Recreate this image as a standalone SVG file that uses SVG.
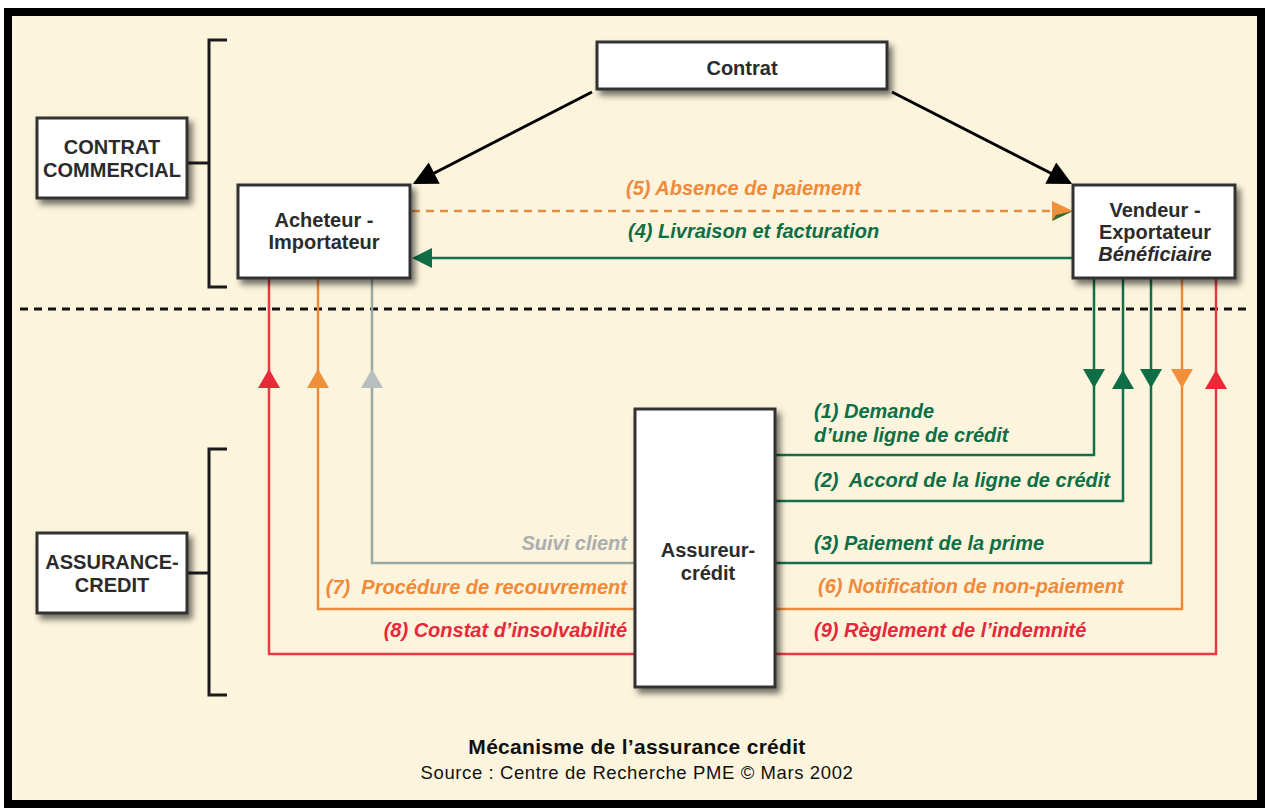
<svg xmlns="http://www.w3.org/2000/svg" width="1265" height="812" viewBox="0 0 1265 812">
  <defs>
    <style>
      .box { fill: #ffffff; stroke: #333333; stroke-width: 3; filter: url(#shadow); }
      .node { font-family: "Liberation Sans", Arial, sans-serif; font-weight: bold; font-size: 20px; fill: #2b2b2b; text-anchor: middle; }
      .lbl { font-family: "Liberation Sans", Arial, sans-serif; font-weight: bold; font-style: italic; font-size: 20px; }
      .green { fill: #0f6e45; }
      .orange { fill: #f08a3a; }
      .red { fill: #e8283a; }
      .grey { fill: #a9aeae; }
      .ln { fill: none; stroke-width: 2.5; }
      .lg { stroke: #13704a; }
      .lo { stroke: #e98b3c; }
      .lr { stroke: #e83a44; }
      .lgr { stroke: #98aaa6; }
      .brk { fill: none; stroke: #1a1a1a; stroke-width: 3; }
    </style>
    <filter id="shadow" x="-20%" y="-20%" width="150%" height="150%">
      <feDropShadow dx="4" dy="5" stdDeviation="3" flood-color="#000" flood-opacity="0.55"/>
    </filter>
    <marker id="blackHead" viewBox="0 0 10 10" refX="9" refY="5" markerWidth="9" markerHeight="8" markerUnits="strokeWidth" orient="auto">
      <path d="M0,0 L10,5 L0,10 Z" fill="#000"/>
    </marker>
    <!-- triangles for the vertical flows, tip at the origin -->
    <path id="triUp" d="M0,0 L11,19 L-11,19 Z"/>
    <path id="triDown" d="M0,0 L11,-19 L-11,-19 Z"/>
  </defs>

  <!-- frame -->
  <rect x="0" y="0" width="1265" height="812" fill="#ffffff"/>
  <rect x="8" y="12" width="1253" height="792" fill="#fcf4dc" stroke="#000" stroke-width="8"/>

  <!-- separator between the two levels -->
  <line x1="20" y1="309" x2="1246" y2="309" stroke="#111" stroke-width="3" stroke-dasharray="8 6"/>

  <!-- brackets -->
  <g id="brackets">
    <path class="brk" d="M227,40 H209 V287 H227"/>
    <path class="brk" d="M187,163 H209" stroke-width="2"/>
    <path class="brk" d="M227,449 H209 V695 H227"/>
    <path class="brk" d="M187,573 H209" stroke-width="2"/>
  </g>

  <!-- connectors -->
  <g id="connectors">
    <!-- contract to both parties -->
    <line x1="592" y1="92" x2="415" y2="183" stroke="#000" stroke-width="3" marker-end="url(#blackHead)"/>
    <line x1="892" y1="92" x2="1070" y2="183" stroke="#000" stroke-width="3" marker-end="url(#blackHead)"/>

    <!-- (5) absence de paiement -->
    <line x1="412" y1="211" x2="1054" y2="211" class="ln lo" stroke-width="2" stroke-dasharray="8 6"/>
    <path d="M1073,211 L1052,201 L1052,221 Z" fill="#f0903a"/>
    <path d="M1073,211 L1052,221 L1056,215 Z" fill="#2f6b3a"/>

    <!-- (4) livraison et facturation -->
    <line x1="1073" y1="258" x2="428" y2="258" class="ln lg"/>
    <path d="M412,258 L432,248 L432,268 Z" fill="#0f6e45"/>

    <!-- buyer side -->
    <path class="ln lr" d="M269,279 V654 H635"/>
    <path class="ln lo" d="M318,279 V609 H635"/>
    <path class="ln lgr" d="M372,279 V563 H635"/>
    <use href="#triUp" x="269" y="369" fill="#e62a38"/>
    <use href="#triUp" x="318" y="369" fill="#f0903a"/>
    <use href="#triUp" x="372" y="369" fill="#b9bfbf"/>

    <!-- seller side -->
    <path class="ln lg" d="M775,455 H1094 V279"/>
    <path class="ln lg" d="M775,501 H1123 V279"/>
    <path class="ln lg" d="M775,563 H1151 V279"/>
    <path class="ln lo" d="M775,609 H1182 V279"/>
    <path class="ln lr" d="M775,654 H1216 V279"/>
    <use href="#triDown" x="1094" y="388" fill="#0f6e45"/>
    <use href="#triUp" x="1123" y="370" fill="#0f6e45"/>
    <use href="#triDown" x="1151" y="388" fill="#0f6e45"/>
    <use href="#triDown" x="1182" y="388" fill="#f0903a"/>
    <use href="#triUp" x="1216" y="370" fill="#e62a38"/>
  </g>

  <!-- connector labels -->
  <g id="labels">
    <text class="lbl orange" x="626" y="195">(5) Absence de paiement</text>
    <text class="lbl green" x="628" y="238">(4) Livraison et facturation</text>

    <text class="lbl grey" x="627" y="550" text-anchor="end">Suivi client</text>
    <text class="lbl orange" x="627" y="594" text-anchor="end" xml:space="preserve">(7)  Procédure de recouvrement</text>
    <text class="lbl red" x="627" y="637" text-anchor="end">(8) Constat d’insolvabilité</text>

    <text class="lbl green" x="814" y="418">(1) Demande</text>
    <text class="lbl green" x="814" y="442">d’une ligne de crédit</text>
    <text class="lbl green" x="814" y="487" xml:space="preserve">(2)  Accord de la ligne de crédit</text>
    <text class="lbl green" x="814" y="550">(3) Paiement de la prime</text>
    <text class="lbl orange" x="818" y="593">(6) Notification de non-paiement</text>
    <text class="lbl red" x="814" y="637">(9) Règlement de l’indemnité</text>
  </g>

  <!-- nodes -->
  <g id="contrat">
    <rect class="box" x="597" y="42" width="290" height="47"/>
    <text class="node" x="742" y="75">Contrat</text>
  </g>

  <g id="contrat-commercial">
    <rect class="box" x="37" y="118" width="150" height="80"/>
    <text class="node" x="112" y="154">CONTRAT</text>
    <text class="node" x="112" y="177">COMMERCIAL</text>
  </g>

  <g id="acheteur">
    <rect class="box" x="238" y="185" width="172" height="93"/>
    <text class="node" x="324" y="227">Acheteur -</text>
    <text class="node" x="324" y="249">Importateur</text>
  </g>

  <g id="vendeur">
    <rect class="box" x="1073" y="185" width="162" height="93"/>
    <text class="node" x="1155" y="217">Vendeur -</text>
    <text class="node" x="1155" y="239">Exportateur</text>
    <text class="node" x="1155" y="261" font-style="italic">Bénéficiaire</text>
  </g>

  <g id="assurance-credit">
    <rect class="box" x="37" y="533" width="150" height="80"/>
    <text class="node" x="112" y="569">ASSURANCE-</text>
    <text class="node" x="112" y="592">CREDIT</text>
  </g>

  <g id="assureur">
    <rect class="box" x="635" y="409" width="140" height="278"/>
    <text class="node" x="708" y="557">Assureur-</text>
    <text class="node" x="708" y="580">crédit</text>
  </g>

  <!-- caption -->
  <g id="caption" font-family="'Liberation Sans', Arial, sans-serif" text-anchor="middle" fill="#111">
    <text x="637" y="754" font-size="21" font-weight="bold" letter-spacing="0.3">Mécanisme de l’assurance crédit</text>
    <text x="637" y="779" font-size="18.5" letter-spacing="0.6">Source : Centre de Recherche PME © Mars 2002</text>
  </g>
</svg>
